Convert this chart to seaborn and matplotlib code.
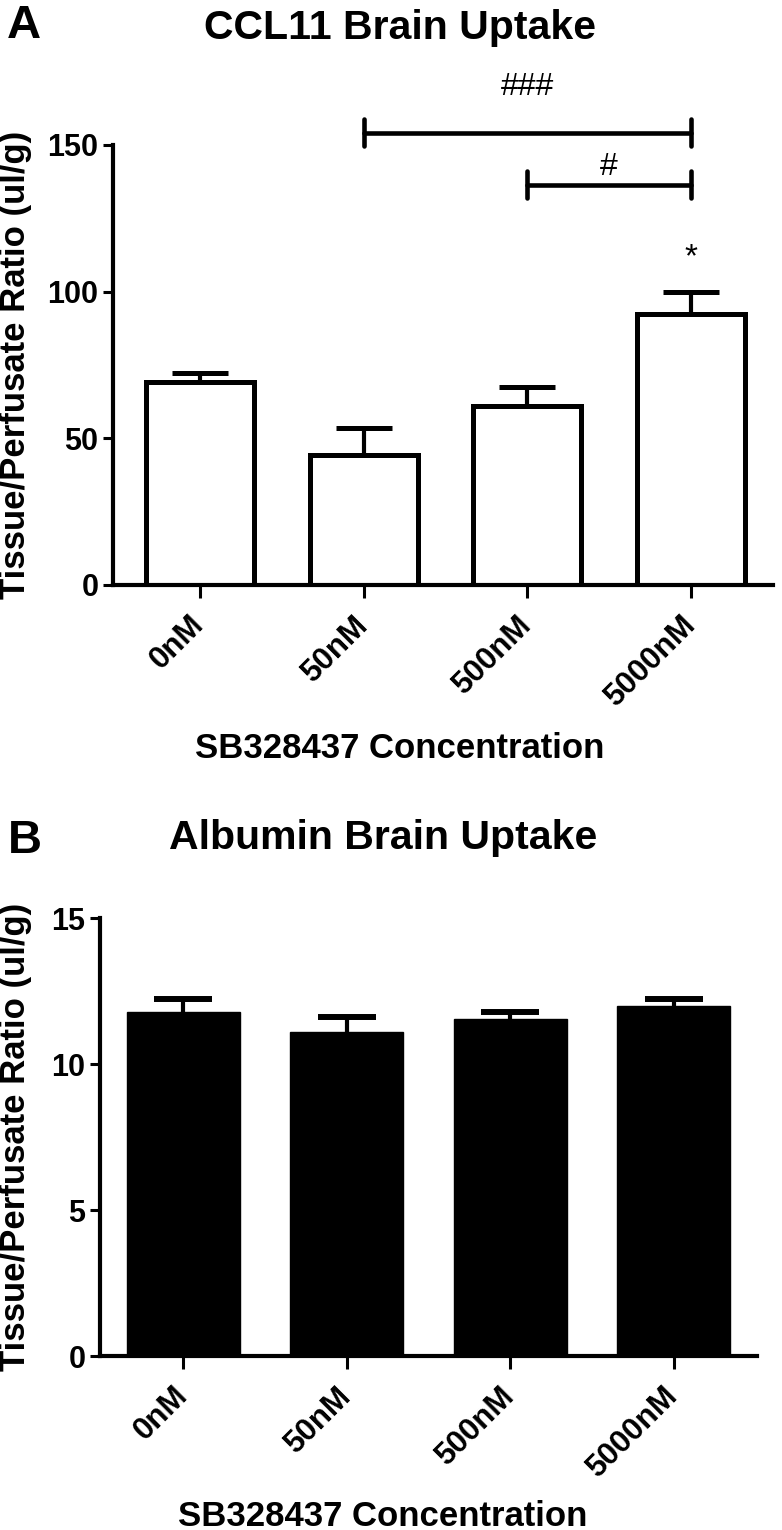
import numpy as np
import matplotlib
matplotlib.use("Agg")
import matplotlib.pyplot as plt
import seaborn as sns

# data (mean and SEM, upward error bars only)
concentrations = ["0nM", "50nM", "500nM", "5000nM"]
ccl11_mean = [69.2, 44.3, 61.0, 92.4]
ccl11_sem = [3.1, 9.2, 6.5, 7.5]
albumin_mean = [11.78, 11.10, 11.54, 11.99]
albumin_sem = [0.45, 0.51, 0.24, 0.24]

# significance marks on panel A: (group a, group b, label, bracket y, label y)
brackets = [("50nM", "5000nM", "###", 154.1, 167.1),
            ("500nM", "5000nM", "#", 136.4, 139.8)]
star_group = "5000nM"
star_y = 108.8

sns.set_style("ticks")
plt.rcParams["font.family"] = ["Liberation Sans", "DejaVu Sans"]
plt.rcParams["font.weight"] = "bold"
plt.rcParams["text.color"] = "black"
plt.rcParams["axes.labelcolor"] = "black"
plt.rcParams["xtick.color"] = "black"
plt.rcParams["ytick.color"] = "black"

W, H = 782, 1530
fig = plt.figure(figsize=(W / 100, H / 100), dpi=100)


def px_axes(left, top, right, bottom):
    return fig.add_axes([left / W, 1 - bottom / H, (right - left) / W, (bottom - top) / H])


def style_axes(ax, yticks, ylim, xlim):
    ax.set_ylim(*ylim)
    ax.set_xlim(*xlim)
    ax.set_yticks(yticks)
    ax.set_yticklabels([str(t) for t in yticks], fontsize=22, fontweight="bold")
    ax.set_xticks(range(len(concentrations)))
    ax.set_xticklabels(concentrations, fontsize=22.5, fontweight="bold",
                       rotation=45, ha="right", va="center",
                       rotation_mode="anchor")
    for s in ["top", "right"]:
        ax.spines[s].set_visible(False)
    for s in ["left", "bottom"]:
        ax.spines[s].set_linewidth(3)
        ax.spines[s].set_color("black")
    ax.tick_params(axis="y", length=7, width=2.2, pad=3.5)
    ax.tick_params(axis="x", length=9.5, width=2.2, pad=16)
    ax.set_xlabel("")
    ax.set_ylabel("Tissue/Perfusate Ratio (ul/g)", fontsize=25, fontweight="bold")


def upper_errorbars(ax, mean, sem, capsize, capthick):
    _, caps, _ = ax.errorbar(range(len(mean)), mean,
                             yerr=[np.zeros(len(sem)), sem], fmt="none",
                             ecolor="black", elinewidth=3, capsize=capsize,
                             capthick=capthick, zorder=3)
    caps[0].set_visible(False)


# Panel A
ax1 = px_axes(113, 145, 773, 585)
sns.barplot(x=concentrations, y=ccl11_mean, ax=ax1, color="white", saturation=1,
            edgecolor="black", linewidth=3.6, width=0.66, errorbar=None, zorder=2)
upper_errorbars(ax1, ccl11_mean, ccl11_sem, 20, 3.6)
style_axes(ax1, [0, 50, 100, 150], (0, 150), (-0.53, 3.5))
ax1.yaxis.set_label_coords(-0.123, 0.5)

for a, b, label, y, ty in brackets:
    x0, x1 = concentrations.index(a), concentrations.index(b)
    ax1.plot([x0, x1], [y, y], color="black", lw=3.3, clip_on=False,
             solid_capstyle="round")
    for xe in (x0, x1):
        ax1.plot([xe, xe], [y - 4.6, y + 4.6], color="black", lw=3.3,
                 clip_on=False, solid_capstyle="round")
    ax1.text((x0 + x1) / 2, ty, label, ha="center", va="baseline",
             fontsize=23, fontweight="normal", clip_on=False)
ax1.text(concentrations.index(star_group), star_y, "*", ha="center",
         va="baseline", fontsize=24, fontweight="normal")

fig.text(400 / W, 1 - 39 / H, "CCL11 Brain Uptake", ha="center", va="baseline",
         fontsize=29.5, fontweight="bold")
fig.text(7 / W, 1 - 38 / H, "A", ha="left", va="baseline", fontsize=34,
         fontweight="bold")
fig.text(400 / W, 1 - 758 / H, "SB328437 Concentration", ha="center",
         va="baseline", fontsize=25, fontweight="bold")

# Panel B
ax2 = px_axes(100, 918, 757, 1356)
sns.barplot(x=concentrations, y=albumin_mean, ax=ax2, color="black", saturation=1,
            edgecolor="black", linewidth=1, width=0.69, errorbar=None, zorder=2)
upper_errorbars(ax2, albumin_mean, albumin_sem, 21, 4.3)
style_axes(ax2, [0, 5, 10, 15], (0, 15), (-0.51, 3.51))
ax2.yaxis.set_label_coords(-0.104, 0.5)

fig.text(383 / W, 1 - 849 / H, "Albumin Brain Uptake", ha="center",
         va="baseline", fontsize=29.5, fontweight="bold")
fig.text(8 / W, 1 - 853 / H, "B", ha="left", va="baseline", fontsize=34,
         fontweight="bold")
fig.text(383 / W, 1 - 1526 / H, "SB328437 Concentration", ha="center",
         va="baseline", fontsize=25, fontweight="bold")

fig.savefig("out.png", dpi=100, facecolor="white")
